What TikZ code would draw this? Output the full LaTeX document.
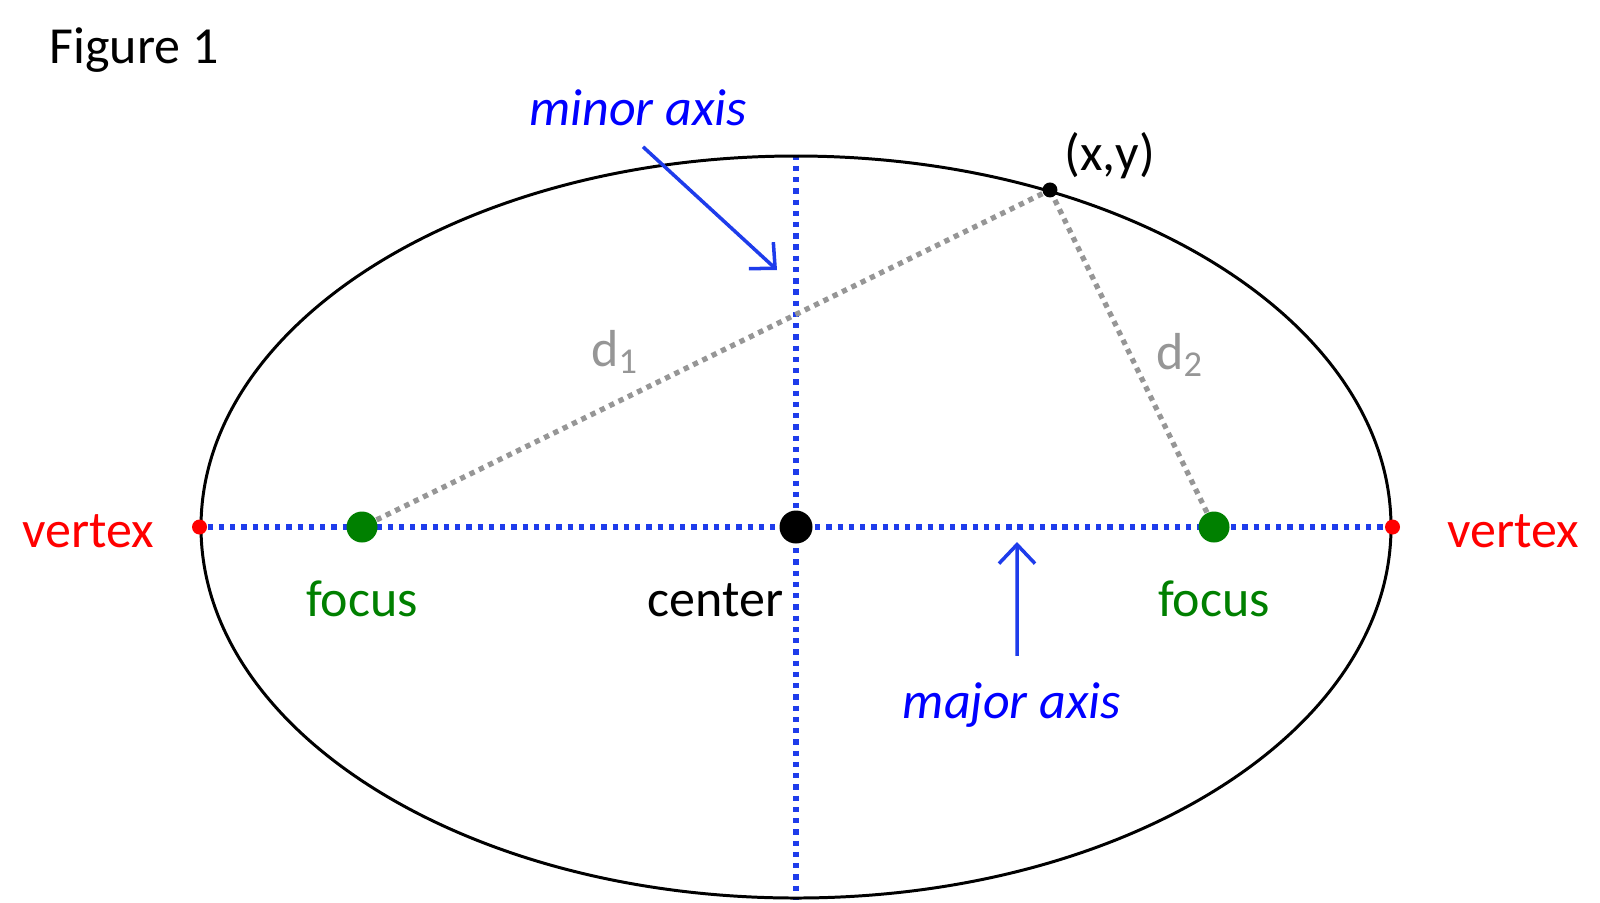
\documentclass[tikz,border=0pt]{standalone}
\usepackage{fontspec}
\setmainfont{Carlito}
\usetikzlibrary{shapes,arrows.meta,positioning,backgrounds}

\definecolor{axisblue}{RGB}{30,60,235}
\definecolor{textblue}{RGB}{0,0,255}
\definecolor{focusgreen}{RGB}{0,128,0}
\definecolor{distgray}{RGB}{150,150,150}

\tikzset{
    dot/.style={circle, fill, inner sep=0pt},
    lbl/.style={inner sep=0pt, font=\fontsize{14.8}{17}\selectfont},
    axislbl/.style={inner sep=0pt, textblue, font=\fontsize{14.8}{17}\selectfont\itshape},
    axisline/.style={axisblue, line width=1.5pt, dash pattern=on 1.5pt off 1.7pt},
    distline/.style={distgray, line width=1.5pt, dash pattern=on 1.5pt off 1.45pt},
    pointer/.style={-{Straight Barb[length=1.9mm,width=3.6mm]}, axisblue, line width=1pt},
}

\begin{document}
\begin{tikzpicture}
    \useasboundingbox (0,0) rectangle (16,9.02);

    % the ellipse
    \node[
        ellipse,
        draw,
        line width=0.85pt,
        inner sep=0pt,
        minimum width=11.90cm,
        minimum height=7.42cm
        ] (ell) at (7.96,3.75) {};

    % points
    \node[dot, red, minimum size=0.15cm] (vl) at (ell.west) {};
    \node[dot, red, minimum size=0.15cm] (vr) at (ell.east) {};
    \node[dot, focusgreen, minimum size=0.31cm] (fl) at (3.62,3.75) {};
    \node[dot, focusgreen, minimum size=0.31cm] (fr) at (12.14,3.75) {};
    \node[dot, minimum size=0.33cm] (c) at (ell.center) {};
    \node[dot, minimum size=0.15cm] (p) at (ell.53) {};

    % labels
    \node[lbl, anchor=base west] (title) at (0.49,8.39) {Figure 1};
    \node[lbl, red, left=0.37cm of vl, yshift=-0.04cm] (lvl) {vertex};
    \node[lbl, red, right=0.46cm of vr, yshift=-0.04cm] (lvr) {vertex};
    \node[lbl, focusgreen, below=0.37cm of fl] (lfl) {focus};
    \node[lbl, focusgreen, below=0.37cm of fr] (lfr) {focus};
    \node[lbl, below left=0.44cm and 0cm of c] (lc) {center};
    \node[lbl, above right=0.05cm and 0.08cm of p] (lp) {(x,y)};
    \node[lbl, distgray] (ld1) at (6.15,5.50) {d\textsubscript{1}};
    \node[lbl, distgray] (ld2) at (11.80,5.47) {d\textsubscript{2}};
    \node[axislbl] (lminor) at (6.38,7.94) {minor axis};
    \node[axislbl] (lmajor) at (10.12,1.97) {major axis};

    % pointers
    \coordinate (mntip) at (7.77,6.32);
    \coordinate (mjtip) at (10.17,3.60);
    \draw[pointer] ([xshift=0.05cm,yshift=-0.20cm]lminor.south) -- (mntip);
    \draw[pointer] ([xshift=0.05cm,yshift=0.26cm]lmajor.north) -- (mjtip);

    % axes and distances
    \begin{scope}[on background layer]
        \draw[axisline] (vl) -- (vr);
        \draw[axisline] (ell.north) -- (ell.south);
        \draw[distline] (fl) -- (p);
        \draw[distline] (fr) -- (p);
    \end{scope}
\end{tikzpicture}
\end{document}
